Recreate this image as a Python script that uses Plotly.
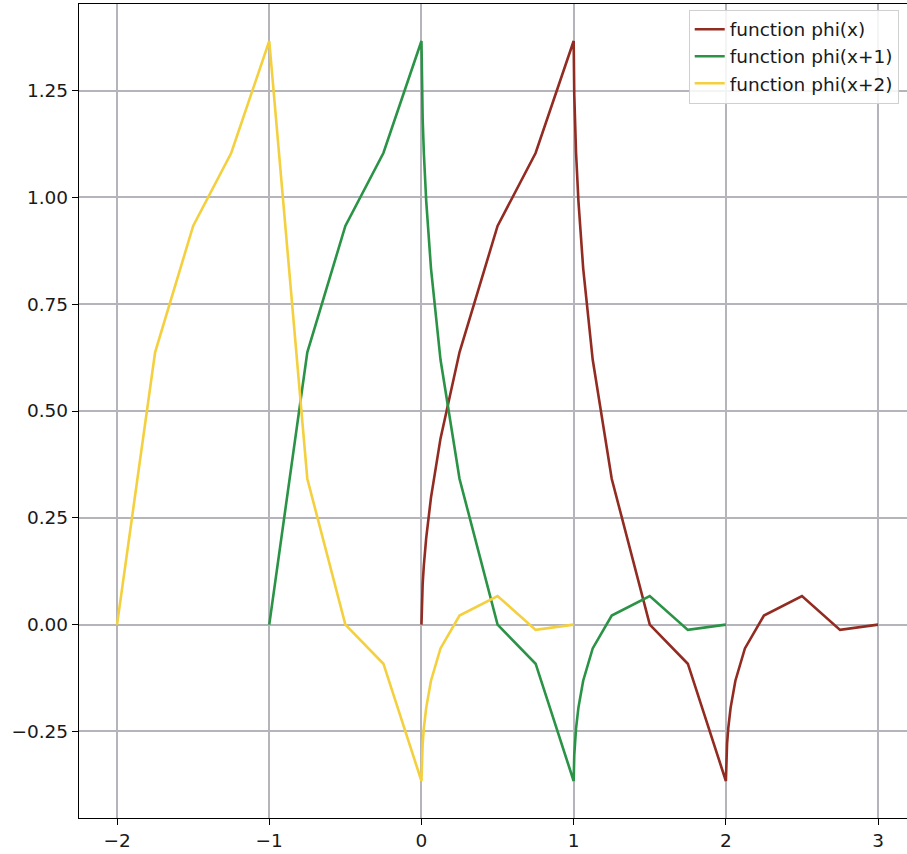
import plotly.graph_objects as go

# Shared sample grid (plotted x) and the three series
x_red = [0, 0.00390625, 0.0078125, 0.015625, 0.03125, 0.0625, 0.125, 0.25, 0.5, 0.75,
         1.0, 1.00390625, 1.0078125, 1.015625, 1.03125, 1.0625, 1.125, 1.25, 1.5, 1.75,
         2.0, 2.00390625, 2.0078125, 2.015625, 2.03125, 2.0625, 2.125, 2.25, 2.5, 2.75, 3.0]
y_red = [0.0, 0.0647, 0.0947, 0.1387, 0.2031, 0.2973, 0.4353, 0.6373, 0.9330, 1.1038,
         1.3660, 1.2406, 1.1844, 1.1043, 0.9911, 0.8340, 0.6205, 0.3415, 0.0, -0.0915,
         -0.3660, -0.3053, -0.2791, -0.2430, -0.1942, -0.1313, -0.0558, 0.0212, 0.0670, -0.0123, 0.0]

x_green = [-1.0, -0.75, -0.5, -0.25,
           0.0, 0.00390625, 0.0078125, 0.015625, 0.03125, 0.0625, 0.125, 0.25, 0.5, 0.75,
           1.0, 1.00390625, 1.0078125, 1.015625, 1.03125, 1.0625, 1.125, 1.25, 1.5, 1.75, 2.0]
y_green = [0.0, 0.6373, 0.9330, 1.1038,
           1.3660, 1.2406, 1.1844, 1.1043, 0.9911, 0.8340, 0.6205, 0.3415, 0.0, -0.0915,
           -0.3660, -0.3053, -0.2791, -0.2430, -0.1942, -0.1313, -0.0558, 0.0212, 0.0670, -0.0123, 0.0]

x_yellow = [-2.0, -1.75, -1.5, -1.25, -1.0, -0.75, -0.5, -0.25,
            0.0, 0.00390625, 0.0078125, 0.015625, 0.03125, 0.0625, 0.125, 0.25, 0.5, 0.75, 1.0]
y_yellow = [0.0, 0.6373, 0.9330, 1.1038, 1.3660, 0.3415, 0.0, -0.0915,
            -0.3660, -0.3053, -0.2791, -0.2430, -0.1942, -0.1313, -0.0558, 0.0212, 0.0670, -0.0123, 0.0]

series_names = ["function phi(x)", "function phi(x+1)", "function phi(x+2)"]
colors = ["#922B21", "#2A9346", "#F4D03F"]

x_ticks = [-2, -1, 0, 1, 2, 3]
x_tick_text = ["\u22122", "\u22121", "0", "1", "2", "3"]
y_ticks = [-0.25, 0.0, 0.25, 0.5, 0.75, 1.0, 1.25]

fig = go.Figure()
for name, xs, ys, c in zip(series_names, [x_red, x_green, x_yellow],
                           [y_red, y_green, y_yellow], colors):
    fig.add_trace(go.Scatter(x=xs, y=ys, mode="lines", name=name,
                             line=dict(color=c, width=2.6)))

font_family = "DejaVu Sans"
txt_color = "#1a1a1a"
fig.update_layout(
    width=907, height=854,
    margin=dict(l=79, r=0, t=4, b=36),
    paper_bgcolor="white", plot_bgcolor="white",
    font=dict(family=font_family, size=18.5, color=txt_color),
    showlegend=True,
    legend=dict(
        x=0.99, y=0.993, xanchor="right", yanchor="top",
        bgcolor="rgba(255,255,255,0.85)", bordercolor="#d0d0d0", borderwidth=1,
        font=dict(family=font_family, size=18.5, color=txt_color),
        itemwidth=30, tracegroupgap=0,
    ),
    xaxis=dict(
        range=[-2.25, 3.19], tickvals=x_ticks, ticktext=x_tick_text,
        showgrid=True, gridcolor="#b4b4ba", gridwidth=1.5,
        showline=True, linecolor="#000000", linewidth=1.3, mirror=True,
        ticks="outside", ticklen=6, tickcolor="#000000", tickwidth=1.3,
        zeroline=False, automargin=False,
    ),
    yaxis=dict(
        range=[-0.4526, 1.4526], tickvals=y_ticks, tickformat=".2f",
        showgrid=True, gridcolor="#b4b4ba", gridwidth=1.5,
        showline=True, linecolor="#000000", linewidth=1.3, mirror=False,
        ticks="outside", ticklen=6, tickcolor="#000000", tickwidth=1.3,
        zeroline=False, automargin=False,
    ),
)

fig.write_html("out.html", config={"displayModeBar": False},
               post_script="document.body.style.margin='0';document.body.style.overflow='hidden';")
